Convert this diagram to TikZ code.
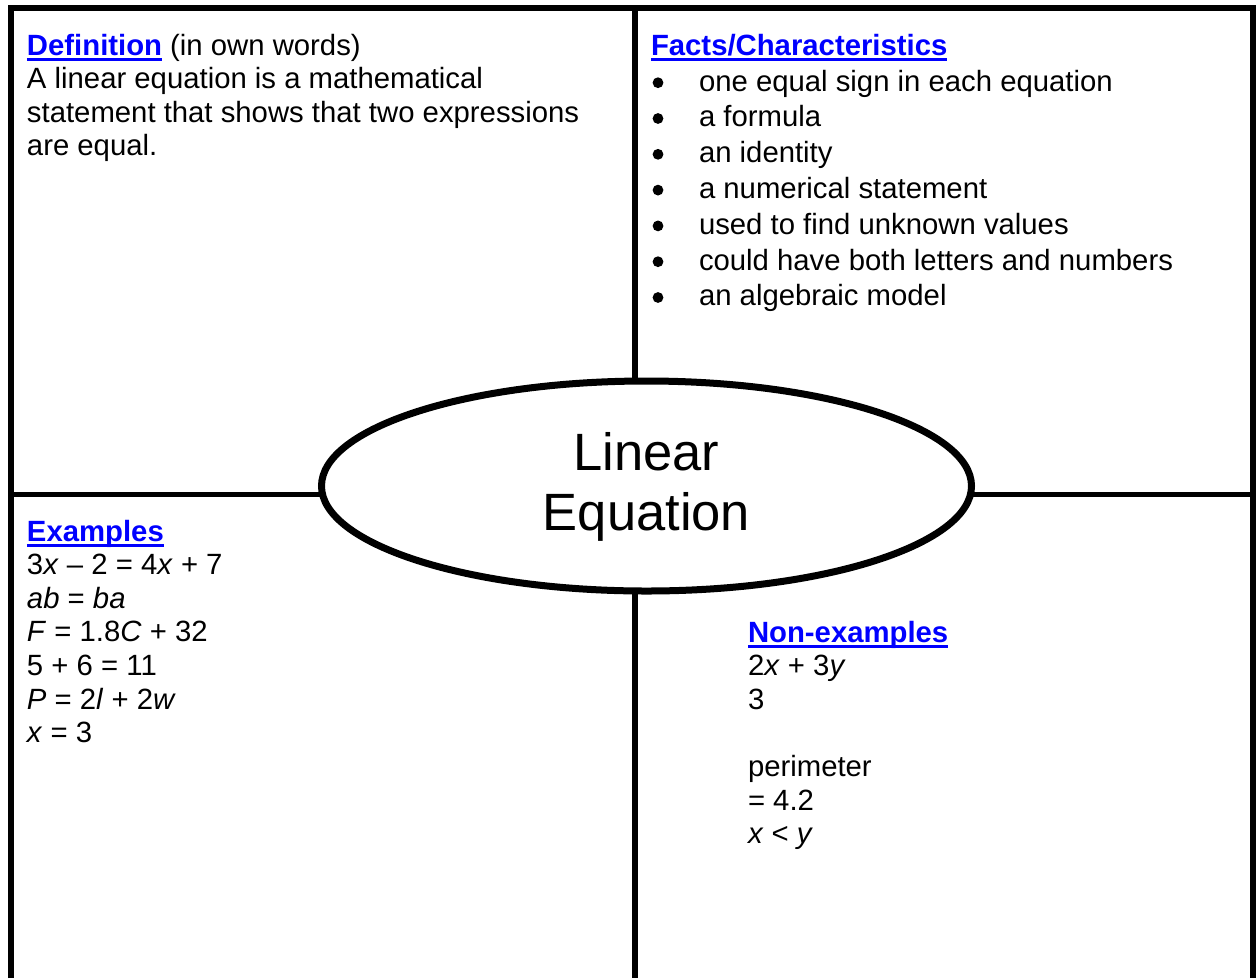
\documentclass[tikz,border=0pt]{standalone}
\usepackage{fontspec}
\setmainfont{Liberation Sans}
\usetikzlibrary{shapes.geometric}
\definecolor{hdblue}{RGB}{0,0,255}
\newcommand\hd[1]{{\bfseries\color{hdblue}\setbox0\hbox{#1}\rlap{\rule[-6pt]{\wd0}{3.5pt}}\box0}}
\newcommand\mybody{\fontsize{29.3}{33.6}\selectfont}
\newcommand\mytitle{\fontsize{52.5}{60}\selectfont}
\begin{document}
\begin{tikzpicture}[x=1pt,y=-1pt,
  frame/.style={line width=6pt,line join=miter},
  divider/.style={line width=5pt},
  txt/.style={anchor=base west,inner sep=0pt,outer sep=0pt,font=\mybody},
  dot/.style={fill=black},
  core/.style={ellipse,draw,line width=7pt,fill=white,minimum width=650pt,minimum height=210pt,inner sep=0pt}]
\useasboundingbox (0,0) rectangle (1257,978);
\fill[white] (0,0) rectangle (1257,978);
% frame and dividers
\draw[frame] (11,978) -- (11,8) -- (1253,8) -- (1253,978);
\draw[line width=6pt] (635,8) -- (635,978);
\draw[divider] (11,494.5) -- (1253,494.5);
% central ellipse
\node[core] (center) at (646.5,486) {};
\node[anchor=base,inner sep=0pt,font=\mytitle] (title) at (646.5,470)
  {\begin{tabular}[t]{@{}c@{}}Linear\\Equation\end{tabular}};
% Definition
\node[txt] (def) at (27,55) {\begin{tabular}[t]{@{}l@{}}\hd{Definition} (in own words)\\
A linear equation is a mathematical\\
statement that shows that two expressions\\
are equal.\end{tabular}};
% Facts
\node[txt] (facth) at (651,55) {\hd{Facts/Characteristics}};
\foreach \k in {0,...,6} \fill[dot] (658,{82.7+35.8*\k}) circle[radius=5.4pt];
\node[txt] (facts) at (699,91) {\renewcommand\arraystretch{1.0655}\begin{tabular}[t]{@{}l@{}}
one equal sign in each equation\\
a formula\\
an identity\\
a numerical statement\\
used to find unknown values\\
could have both letters and numbers\\
an algebraic model\end{tabular}};
% Examples
\node[txt] (ex) at (27,541) {\begin{tabular}[t]{@{}l@{}}\hd{Examples}\\
3\textit{x} – 2 = 4\textit{x} + 7\\
\textit{ab} = \textit{ba}\\
\textit{F} = 1.8\textit{C} + 32\\
5 + 6 = 11\\
\textit{P} = 2\textit{l} + 2\textit{w}\\
\textit{x} = 3\end{tabular}};
% Non-examples
\node[txt] (nonex) at (748,642) {\begin{tabular}[t]{@{}l@{}}\hd{Non-examples}\\
2\textit{x} + 3\textit{y}\\
3\\
\\
perimeter\\
= 4.2\\
\textit{x} < \textit{y}\end{tabular}};
\end{tikzpicture}
\end{document}
